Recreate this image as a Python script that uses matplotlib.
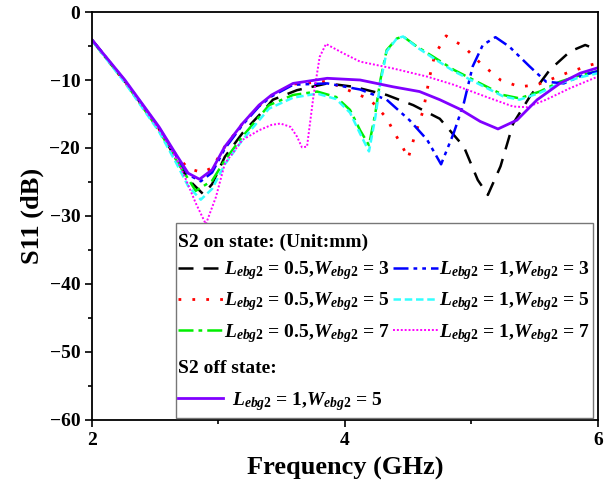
import numpy as np
import matplotlib
matplotlib.use("Agg")
import matplotlib.pyplot as plt
from matplotlib.patches import Rectangle

plt.rcParams['font.family'] = ['Liberation Serif', 'DejaVu Serif']
plt.rcParams['font.weight'] = 'bold'
plt.rcParams['mathtext.fontset'] = 'custom'
plt.rcParams['mathtext.it'] = 'Liberation Serif:italic:bold'
plt.rcParams['mathtext.rm'] = 'Liberation Serif:bold'
plt.rcParams['mathtext.bf'] = 'Liberation Serif:bold'

# --- data (frequency in GHz, S11 in dB) ---
f_l05_w3 = [2.0, 2.26, 2.53, 2.66, 2.76, 2.88, 2.95, 3.05, 3.19, 3.37, 3.43, 3.62, 3.86, 4.07, 4.33,
            4.54, 4.75, 4.94, 5.05, 5.13, 5.23, 5.33, 5.46, 5.62, 5.78, 5.90, 6.0]
s_l05_w3 = [-4.1, -10.2, -17.2, -21.5, -24.6, -26.8, -25.3, -21.3, -17.8, -14.2, -12.9, -11.5, -10.5, -11.0, -12.2,
            -13.7, -15.7, -19.8, -24.7, -26.9, -22.7, -16.4, -12.5, -8.5, -5.8, -4.85, -5.6]

f_l05_w5 = [2.0, 2.26, 2.53, 2.66, 2.76, 2.87, 2.95, 3.05, 3.19, 3.32, 3.42, 3.59, 3.86, 4.09, 4.20, 4.33,
            4.38, 4.46, 4.50, 4.55, 4.62, 4.67, 4.71, 4.80, 4.94, 5.07, 5.23, 5.38, 5.52, 5.75, 5.94, 6.0]
s_l05_w5 = [-4.2, -10.3, -17.2, -20.9, -23.0, -23.6, -22.9, -19.8, -16.4, -13.8, -12.3, -10.6, -10.2, -12.0, -12.9, -15.6,
            -17.4, -20.0, -21.5, -18.3, -14.4, -9.5, -6.3, -3.5, -5.1, -7.5, -10.0, -11.0, -10.7, -9.0, -7.8, -7.5]

f_l05_w7 = [2.0, 2.26, 2.53, 2.66, 2.82, 2.95, 3.05, 3.19, 3.40, 3.59, 3.78, 3.93, 4.04, 4.12, 4.19, 4.24,
            4.28, 4.33, 4.41, 4.46, 4.57, 4.70, 4.86, 5.07, 5.25, 5.38, 5.54, 5.70, 5.86, 6.0]
s_l05_w7 = [-4.2, -10.3, -17.4, -21.6, -26.3, -24.8, -21.8, -18.3, -13.7, -12.2, -11.7, -12.5, -14.4, -17.4, -19.6, -14.9,
            -10.0, -5.6, -3.9, -3.6, -5.1, -6.6, -8.5, -10.5, -12.2, -12.7, -11.7, -10.25, -9.3, -8.7]

f_l1_w3 = [2.0, 2.26, 2.53, 2.66, 2.76, 2.86, 2.95, 3.05, 3.19, 3.32, 3.42, 3.59, 3.86, 4.12, 4.33, 4.51,
           4.65, 4.76, 4.86, 4.94, 5.01, 5.09, 5.19, 5.30, 5.46, 5.59, 5.73, 5.88, 6.0]
s_l1_w3 = [-4.1, -10.1, -17.0, -21.0, -23.9, -24.9, -23.6, -20.1, -16.6, -13.9, -12.4, -10.7, -10.5, -11.4, -12.9, -15.9,
           -18.8, -22.4, -17.8, -13.4, -8.0, -4.85, -3.7, -5.1, -8.0, -10.25, -10.5, -9.3, -8.7]

f_l1_w5 = [2.0, 2.26, 2.53, 2.66, 2.76, 2.86, 2.95, 3.05, 3.19, 3.40, 3.59, 3.78, 3.93, 4.04, 4.12, 4.19, 4.24,
           4.28, 4.33, 4.41, 4.46, 4.57, 4.70, 4.86, 5.07, 5.25, 5.38, 5.54, 5.70, 5.86, 6.0]
s_l1_w5 = [-4.2, -10.4, -17.6, -22.0, -25.6, -27.6, -26.0, -22.4, -18.8, -14.2, -12.6, -12.0, -12.8, -14.8, -17.9, -20.5, -15.5,
           -10.4, -5.8, -3.9, -3.6, -5.2, -6.8, -8.7, -10.7, -12.4, -12.9, -11.9, -10.5, -9.6, -9.0]

f_l1_w7 = [2.0, 2.26, 2.53, 2.62, 2.71, 2.82, 2.90, 2.98, 3.05, 3.19, 3.32, 3.42, 3.49, 3.57, 3.62, 3.66, 3.70,
           3.75, 3.80, 3.85, 3.99, 4.12, 4.38, 4.65, 4.86, 5.12, 5.33, 5.44, 5.59, 5.78, 6.0]
s_l1_w7 = [-4.1, -10.2, -17.3, -20.0, -23.2, -28.1, -31.2, -27.2, -22.3, -18.8, -17.4, -16.6, -16.4, -16.9, -18.3, -19.9, -19.8,
           -12.5, -6.6, -4.7, -6.1, -7.3, -8.3, -9.5, -10.7, -12.5, -13.9, -14.0, -12.9, -11.2, -9.5]

f_off = [2.0, 2.26, 2.53, 2.66, 2.76, 2.85, 2.95, 3.05, 3.19, 3.32, 3.42, 3.59, 3.86, 4.12, 4.38, 4.59,
         4.75, 4.91, 5.07, 5.21, 5.36, 5.52, 5.70, 5.86, 6.0]
s_off = [-4.1, -10.0, -16.9, -20.8, -23.7, -24.6, -23.2, -19.8, -16.4, -13.7, -12.2, -10.5, -9.75, -10.0, -11.0, -11.7,
         -12.9, -14.3, -16.1, -17.2, -15.9, -12.9, -10.5, -9.0, -8.2]

lab = r'$L_{ebg2}$ = %s,$W_{ebg2}$ = %s'

fig = plt.figure(figsize=(6.07, 4.9), dpi=100)
ax = fig.add_axes([0.1516, 0.1429, 0.8334, 0.8326])

l1, = ax.plot(f_l05_w3, s_l05_w3, color='black', lw=1.8, ls=(0, (6, 4)), label=lab % ('0.5', '3'))
l2, = ax.plot(f_l05_w5, s_l05_w5, color='red', lw=2.0, ls=(0, (1, 4)), label=lab % ('0.5', '5'))
l3, = ax.plot(f_l05_w7, s_l05_w7, color='#00ee00', lw=1.8, ls=(0, (6, 2, 1.5, 2)), label=lab % ('0.5', '7'))
l4, = ax.plot(f_l1_w3, s_l1_w3, color='blue', lw=1.8, ls=(0, (6, 2, 1.5, 2, 1.5, 2)), label=lab % ('1', '3'))
l5, = ax.plot(f_l1_w5, s_l1_w5, color='#33ffff', lw=1.8, ls=(0, (3, 1.5)), label=lab % ('1', '5'))
l6, = ax.plot(f_l1_w7, s_l1_w7, color='#ff00ff', lw=1.4, ls=(0, (1, 1)), label=lab % ('1', '7'))
l7, = ax.plot(f_off, s_off, color='#8000ff', lw=2.0, ls='-', label=lab % ('1', '5'))

ax.set_xlim(2, 6)
ax.set_ylim(-60, 0)
ax.set_xticks([2, 4, 6])
ax.set_xticks([3, 5], minor=True)
ax.set_yticks(np.arange(-60, 1, 10))
ax.set_yticks(np.arange(-55, 0, 10), minor=True)
ax.tick_params(which='both', direction='out', labelsize=14, width=1.2)
ax.tick_params(which='major', length=5)
ax.tick_params(which='minor', length=3)
for sp in ax.spines.values():
    sp.set_linewidth(1.3)
for t in ax.get_xticklabels() + ax.get_yticklabels():
    t.set_fontweight('bold')

ax.set_xlabel('Frequency (GHz)', fontsize=19, fontweight='bold', labelpad=6)
ax.set_ylabel('S11 (dB)', fontsize=19, fontweight='bold', labelpad=4)

# legend box
box = Rectangle((0.166, 0.005), 0.824, 0.478, transform=ax.transAxes, facecolor='white',
                edgecolor='#777777', lw=1.0, zorder=5)
ax.add_patch(box)
ax.text(0.170, 0.436, 'S2 on state: (Unit:mm)', transform=ax.transAxes, fontsize=14,
        fontweight='bold', va='center', zorder=6)
ax.text(0.170, 0.127, 'S2 off state:', transform=ax.transAxes, fontsize=14,
        fontweight='bold', va='center', zorder=6)

leg1 = ax.legend(handles=[l1, l2, l3, l4, l5, l6], ncol=2, loc='upper left',
                 bbox_to_anchor=(0.170, 0.394), frameon=False, fontsize=14,
                 handlelength=2.3, handletextpad=0.05, columnspacing=0.2, labelspacing=0.43,
                 borderpad=0, borderaxespad=0)
leg1.set_zorder(6)
ax.add_artist(leg1)
leg2 = ax.legend(handles=[l7], loc='upper left', bbox_to_anchor=(0.170, 0.074), frameon=False,
                 fontsize=14, handlelength=2.3, handletextpad=0.5, borderpad=0, borderaxespad=0)
leg2.set_zorder(6)

fig.savefig('out.png', dpi=100)
